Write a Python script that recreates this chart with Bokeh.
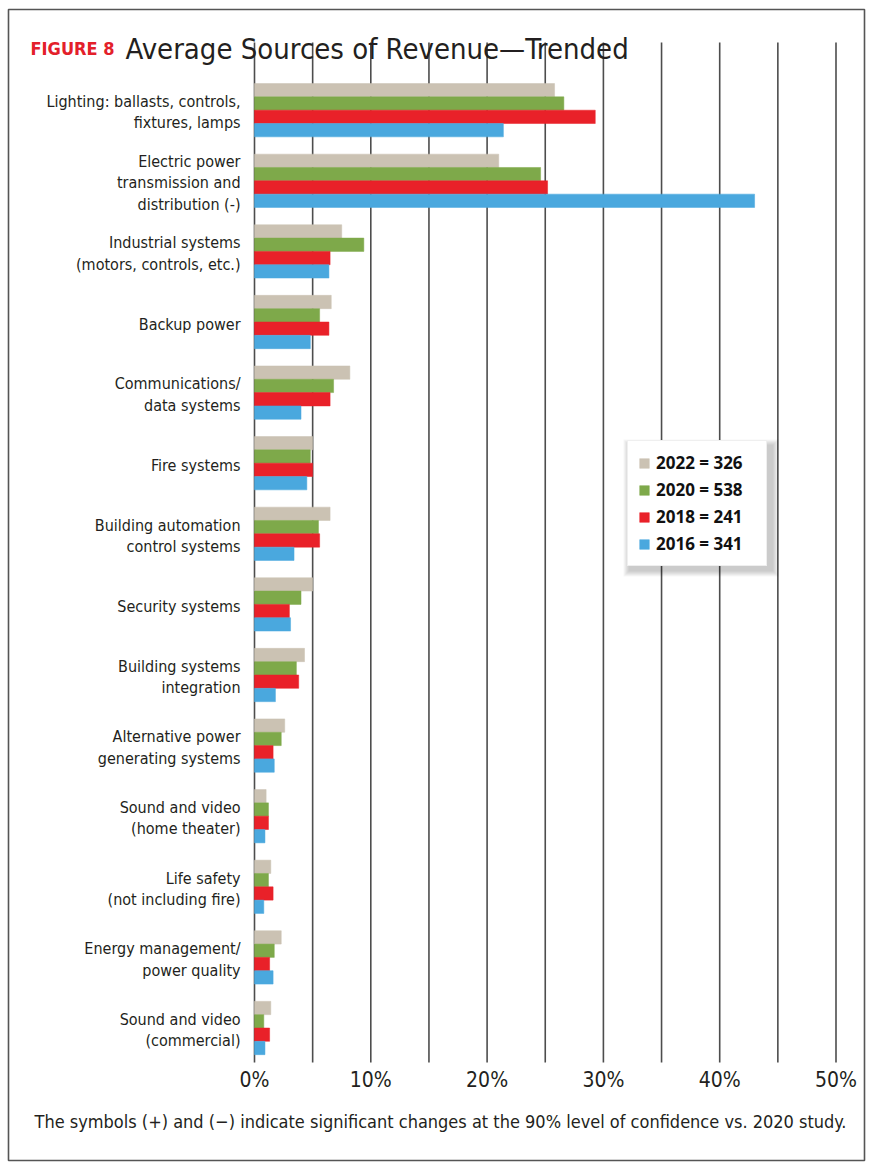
import numpy as np
from bokeh.plotting import figure
from bokeh.models import Range1d, Label, Legend, LegendItem, BoxAnnotation
from bokeh.core.properties import value
from bokeh.embed import file_html
from bokeh.resources import INLINE

categories = [
    "Lighting: ballasts, controls,\nfixtures, lamps",
    "Electric power\ntransmission and\ndistribution (-)",
    "Industrial systems\n(motors, controls, etc.)",
    "Backup power",
    "Communications/\ndata systems",
    "Fire systems",
    "Building automation\ncontrol systems",
    "Security systems",
    "Building systems\nintegration",
    "Alternative power\ngenerating systems",
    "Sound and video\n(home theater)",
    "Life safety\n(not including fire)",
    "Energy management/\npower quality",
    "Sound and video\n(commercial)",
]
series_names = ["2022 = 326", "2020 = 538", "2018 = 241", "2016 = 341"]
v2022 = [25.8, 21.0, 7.5, 6.6, 8.2, 5.0, 6.5, 5.0, 4.3, 2.6, 1.0, 1.4, 2.3, 1.4]
v2020 = [26.6, 24.6, 9.4, 5.6, 6.8, 4.8, 5.5, 4.0, 3.6, 2.3, 1.2, 1.2, 1.7, 0.8]
v2018 = [29.3, 25.2, 6.5, 6.4, 6.5, 5.0, 5.6, 3.0, 3.8, 1.6, 1.2, 1.6, 1.3, 1.3]
v2016 = [21.4, 43.0, 6.4, 4.8, 4.0, 4.5, 3.4, 3.1, 1.8, 1.7, 0.9, 0.8, 1.6, 0.9]
colors = ["#cbc2b3", "#7ea94a", "#e92129", "#4aa8de"]
x_ticks = [0, 10, 20, 30, 40, 50]
x_tick_labels = ["0%", "10%", "20%", "30%", "40%", "50%"]
grid_ticks = [0, 5, 10, 15, 20, 25, 30, 35, 40, 45, 50]

NARROW = "'Liberation Sans Narrow', 'DejaVu Sans Condensed', 'Roboto Condensed', sans-serif"
TXT = "#231f20"

# layout constants (data units: x in %, y in category index)
Y_TOP = -0.959        # top of the bar area
Y_BOT = 13.49         # bottom of the bar area
Y_TICKLAB = 13.73     # x tick labels
X_CATLAB = -1.2       # right edge of category labels

# pixel helpers for decorative placement (page pixels -> data)
PX_PER_X = 11.63
PX_PER_Y = 70.6
def px2x(px):
    return (px - 254) / PX_PER_X
def px2y(py):
    return (py - 109.7) / PX_PER_Y

FR_L, FR_T, FR_R, FR_B = 8, 9, 864, 1160   # outer frame edges in page px
W, H = 872, 1166
p = figure(width=W, height=H, output_backend="svg", toolbar_location=None,
           x_range=Range1d(px2x(FR_L), px2x(FR_R)),
           y_range=Range1d(px2y(FR_B), px2y(FR_T)),
           min_border_left=FR_L, min_border_top=FR_T,
           min_border_right=W - FR_R, min_border_bottom=H - FR_B)
p.xaxis.visible = False
p.yaxis.visible = False
p.xgrid.visible = False
p.ygrid.visible = False
p.outline_line_color = "#555555"
p.outline_line_width = 1.6
p.background_fill_color = "white"
p.border_fill_color = "white"

# vertical grid lines across the bar area
p.segment(x0=grid_ticks, x1=grid_ticks, y0=[Y_TOP] * len(grid_ticks),
          y1=[Y_BOT] * len(grid_ticks), line_color="#4d4d4d", line_width=1.6)

bar_h = 0.1888
series_values = [v2022, v2020, v2018, v2016]
idx = np.arange(len(categories))
items = []
for k, (name, vals, col) in enumerate(zip(series_names, series_values, colors)):
    ys = idx + (k - 1.5) * bar_h
    r = p.hbar(y=ys, left=0, right=vals, height=bar_h, fill_color=col,
               line_color=col, line_width=0.5)
    items.append(LegendItem(label=name, renderers=[r]))

# category labels
p.text(x=[X_CATLAB] * len(categories), y=idx, text=categories,
       text_align="right", text_baseline="middle", text_font=value(NARROW),
       text_font_size="16px", text_color=TXT, text_line_height=1.13,
       y_offset=2)

# x tick labels
p.text(x=x_ticks, y=[Y_TICKLAB] * len(x_ticks), text=x_tick_labels,
       text_align="center", text_baseline="middle", text_font=value(NARROW),
       text_font_size="21px", text_color=TXT)

# legend drop shadow (soft, layered)
LEG_L, LEG_T, LEG_R, LEG_B = 627, 442, 769, 566
for e in range(1, 7):
    p.add_layout(BoxAnnotation(left=px2x(LEG_L + 2 - e), right=px2x(LEG_R + 3 + e),
                               top=px2y(LEG_T + 3 - e), bottom=px2y(LEG_B + 4 + e),
                               fill_color="black", fill_alpha=0.035,
                               line_color=None))

lg = Legend(items=items, location=(LEG_L - FR_L, FR_B - LEG_B))
lg.glyph_width = 12
lg.glyph_height = 12
lg.label_height = 20
lg.label_width = 100
lg.spacing = 4
lg.padding = 10
lg.margin = 0
lg.label_standoff = 6
lg.label_text_font = "Open Sans"
lg.label_text_font_style = "bold"
lg.label_text_font_size = "17px"
lg.label_text_color = "#111111"
lg.border_line_color = "#e0e0e0"
lg.background_fill_color = "white"
lg.background_fill_alpha = 1.0
p.add_layout(lg)

TITLE_BASE = 54      # page px baseline of the title
NOTE_BASE = 1127     # page px baseline of the footnote
p.add_layout(Label(x=30 - FR_L, y=H - TITLE_BASE, x_units="screen", y_units="screen",
                   text="FIGURE 8", text_color="#e3202a", text_font=NARROW,
                   text_font_style="bold", text_font_size="18px",
                   text_baseline="alphabetic"))
p.add_layout(Label(x=125 - FR_L, y=H - TITLE_BASE, x_units="screen", y_units="screen",
                   text="Average Sources of Revenue\u2014Trended", text_color=TXT,
                   text_font=NARROW, text_font_size="29px",
                   text_baseline="alphabetic"))
p.add_layout(Label(x=440 - FR_L, y=H - NOTE_BASE, x_units="screen", y_units="screen",
                   text="The symbols (+) and (\u2212) indicate significant changes at the 90% level of confidence vs. 2020 study.",
                   text_color=TXT, text_font=NARROW, text_font_size="18px",
                   text_align="center", text_baseline="alphabetic"))

open("out.html", "w").write(file_html(p, INLINE))
